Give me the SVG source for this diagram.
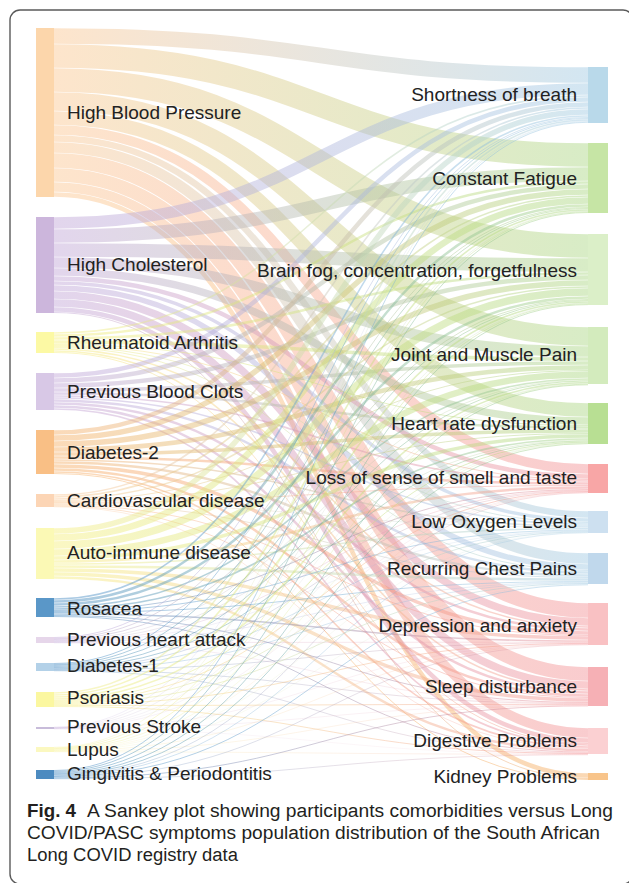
<svg xmlns="http://www.w3.org/2000/svg" width="629" height="883" viewBox="0 0 629 883">
<style>
.lk{fill:none;stroke-opacity:.45}
.lbl{font-family:"Liberation Sans",Arial,sans-serif;font-size:19px;fill:#222}
.r{text-anchor:end}
.cap{font-family:"Liberation Sans",Arial,sans-serif;font-size:18px;fill:#231f20}
.Pb{stroke:url(#Pb)}.Pg{stroke:url(#Pg)}.Pp{stroke:url(#Pp)}.Po{stroke:url(#Po)}
.Lb{stroke:url(#Lb)}.Lg{stroke:url(#Lg)}.Lp{stroke:url(#Lp)}.Lo{stroke:url(#Lo)}
.Yb{stroke:url(#Yb)}.Yg{stroke:url(#Yg)}.Yp{stroke:url(#Yp)}
.Ob{stroke:url(#Ob)}.Og{stroke:url(#Og)}.Op{stroke:url(#Op)}.Oo{stroke:url(#Oo)}
.Bb{stroke:url(#Bb)}.Bg{stroke:url(#Bg)}.Bp{stroke:url(#Bp)}
</style>
<defs>
<linearGradient id="Pb" gradientUnits="userSpaceOnUse" x1="54" y1="0" x2="588" y2="0"><stop offset="0" stop-color="#fbc58e"/><stop offset="1" stop-color="#9ec8e2"/></linearGradient>
<linearGradient id="Pg" gradientUnits="userSpaceOnUse" x1="54" y1="0" x2="588" y2="0"><stop offset="0" stop-color="#fbc58e"/><stop offset="1" stop-color="#a8d580"/></linearGradient>
<linearGradient id="Pp" gradientUnits="userSpaceOnUse" x1="54" y1="0" x2="588" y2="0"><stop offset="0" stop-color="#fbc58e"/><stop offset="1" stop-color="#f28e93"/></linearGradient>
<linearGradient id="Po" gradientUnits="userSpaceOnUse" x1="54" y1="0" x2="588" y2="0"><stop offset="0" stop-color="#fbc58e"/><stop offset="1" stop-color="#f4a95a"/></linearGradient>
<linearGradient id="Lb" gradientUnits="userSpaceOnUse" x1="54" y1="0" x2="588" y2="0"><stop offset="0" stop-color="#bfa3d6"/><stop offset="1" stop-color="#9ec8e2"/></linearGradient>
<linearGradient id="Lg" gradientUnits="userSpaceOnUse" x1="54" y1="0" x2="588" y2="0"><stop offset="0" stop-color="#bfa3d6"/><stop offset="1" stop-color="#a8d580"/></linearGradient>
<linearGradient id="Lp" gradientUnits="userSpaceOnUse" x1="54" y1="0" x2="588" y2="0"><stop offset="0" stop-color="#bfa3d6"/><stop offset="1" stop-color="#f28e93"/></linearGradient>
<linearGradient id="Lo" gradientUnits="userSpaceOnUse" x1="54" y1="0" x2="588" y2="0"><stop offset="0" stop-color="#bfa3d6"/><stop offset="1" stop-color="#f4a95a"/></linearGradient>
<linearGradient id="Yb" gradientUnits="userSpaceOnUse" x1="54" y1="0" x2="588" y2="0"><stop offset="0" stop-color="#f5ee7a"/><stop offset="1" stop-color="#9ec8e2"/></linearGradient>
<linearGradient id="Yg" gradientUnits="userSpaceOnUse" x1="54" y1="0" x2="588" y2="0"><stop offset="0" stop-color="#f5ee7a"/><stop offset="1" stop-color="#a8d580"/></linearGradient>
<linearGradient id="Yp" gradientUnits="userSpaceOnUse" x1="54" y1="0" x2="588" y2="0"><stop offset="0" stop-color="#f5ee7a"/><stop offset="1" stop-color="#f28e93"/></linearGradient>
<linearGradient id="Ob" gradientUnits="userSpaceOnUse" x1="54" y1="0" x2="588" y2="0"><stop offset="0" stop-color="#f6ad62"/><stop offset="1" stop-color="#9ec8e2"/></linearGradient>
<linearGradient id="Og" gradientUnits="userSpaceOnUse" x1="54" y1="0" x2="588" y2="0"><stop offset="0" stop-color="#f6ad62"/><stop offset="1" stop-color="#a8d580"/></linearGradient>
<linearGradient id="Op" gradientUnits="userSpaceOnUse" x1="54" y1="0" x2="588" y2="0"><stop offset="0" stop-color="#f6ad62"/><stop offset="1" stop-color="#f28e93"/></linearGradient>
<linearGradient id="Oo" gradientUnits="userSpaceOnUse" x1="54" y1="0" x2="588" y2="0"><stop offset="0" stop-color="#f6ad62"/><stop offset="1" stop-color="#f4a95a"/></linearGradient>
<linearGradient id="Bb" gradientUnits="userSpaceOnUse" x1="54" y1="0" x2="588" y2="0"><stop offset="0" stop-color="#3f86c0"/><stop offset="1" stop-color="#9ec8e2"/></linearGradient>
<linearGradient id="Bg" gradientUnits="userSpaceOnUse" x1="54" y1="0" x2="588" y2="0"><stop offset="0" stop-color="#3f86c0"/><stop offset="1" stop-color="#a8d580"/></linearGradient>
<linearGradient id="Bp" gradientUnits="userSpaceOnUse" x1="54" y1="0" x2="588" y2="0"><stop offset="0" stop-color="#3f86c0"/><stop offset="1" stop-color="#f28e93"/></linearGradient>
</defs>
<rect width="629" height="883" fill="#fff"/>
<rect id="frame" x="10" y="10" width="623" height="874" rx="10" fill="none" stroke="#5a5a5a" stroke-width="1.4"/>
<g id="connectors">
<path class="lk Pb" stroke-width="15.5" d="M54 36C321 36 321 75 588 75"/>
<path class="lk Pg" stroke-width="23.5" d="M54 56C321 56 321 155 588 155"/>
<path class="lk Pg" stroke-width="23.5" d="M54 80C321 80 321 246 588 246"/>
<path class="lk Pg" stroke-width="18.5" d="M54 101.5C321 101.5 321 336.5 588 336.5"/>
<path class="lk Pg" stroke-width="13.5" d="M54 118C321 118 321 410 588 410"/>
<path class="lk Pp" stroke-width="9.5" d="M54 130C321 130 321 469 588 469"/>
<path class="lk Pb" stroke-width="6.5" d="M54 138.5C321 138.5 321 514.5 588 514.5"/>
<path class="lk Pb" stroke-width="10.5" d="M54 147.5C321 147.5 321 558.5 588 558.5"/>
<path class="lk Pp" stroke-width="14.5" d="M54 160.5C321 160.5 321 610.5 588 610.5"/>
<path class="lk Pp" stroke-width="13.5" d="M54 175C321 175 321 674 588 674"/>
<path class="lk Pp" stroke-width="9.5" d="M54 187C321 187 321 733 588 733"/>
<path class="lk Po" stroke-width="4.5" d="M54 194.5C321 194.5 321 775.5 588 775.5"/>

<path class="lk Lb" stroke-width="11.5" d="M54 223C321 223 321 89 588 89"/>
<path class="lk Lg" stroke-width="13.5" d="M54 236C321 236 321 174 588 174"/>
<path class="lk Lg" stroke-width="13.5" d="M54 250C321 250 321 265 588 265"/>
<path class="lk Lg" stroke-width="10.5" d="M54 262.5C321 262.5 321 351.5 588 351.5"/>
<path class="lk Lg" stroke-width="7.5" d="M54 272C321 272 321 421 588 421"/>
<path class="lk Lp" stroke-width="4.5" d="M54 278.5C321 278.5 321 476.5 588 476.5"/>
<path class="lk Lb" stroke-width="3.5" d="M54 283C321 283 321 520 588 520"/>
<path class="lk Lb" stroke-width="5.5" d="M54 288C321 288 321 567 588 567"/>
<path class="lk Lp" stroke-width="7.5" d="M54 295C321 295 321 622 588 622"/>
<path class="lk Lp" stroke-width="7.5" d="M54 303C321 303 321 685 588 685"/>
<path class="lk Lp" stroke-width="4.5" d="M54 309.5C321 309.5 321 740.5 588 740.5"/>
<path class="lk Lo" stroke-width="1" d="M54 312.5C321 312.5 321 778.5 588 778.5"/>

<path class="lk Yb" stroke-width="1.6" d="M54 333C321 333 321 96 588 96"/>
<path class="lk Yg" stroke-width="2.5" d="M54 335.5C321 335.5 321 182.5 588 182.5"/>
<path class="lk Yg" stroke-width="2.5" d="M54 338.5C321 338.5 321 273.5 588 273.5"/>
<path class="lk Yg" stroke-width="3.5" d="M54 342C321 342 321 359 588 359"/>
<path class="lk Yg" stroke-width="1" d="M54 344.5C321 344.5 321 425.5 588 425.5"/>
<path class="lk Yp" stroke-width="1" d="M54 345.5C321 345.5 321 479.5 588 479.5"/>
<path class="lk Yb" stroke-width="1" d="M54 346.5C321 346.5 321 522.5 588 522.5"/>
<path class="lk Yb" stroke-width="1" d="M54 347.5C321 347.5 321 570.5 588 570.5"/>
<path class="lk Yp" stroke-width="1.6" d="M54 349C321 349 321 627 588 627"/>
<path class="lk Yp" stroke-width="1.6" d="M54 351C321 351 321 690 588 690"/>
<path class="lk Yp" stroke-width="1" d="M54 352.5C321 352.5 321 743.5 588 743.5"/>

<path class="lk Lb" stroke-width="4.5" d="M54 375.5C321 375.5 321 99.5 588 99.5"/>
<path class="lk Lg" stroke-width="4.5" d="M54 380.5C321 380.5 321 186.5 588 186.5"/>
<path class="lk Lg" stroke-width="4.5" d="M54 385.5C321 385.5 321 277.5 588 277.5"/>
<path class="lk Lg" stroke-width="3.5" d="M54 390C321 390 321 363 588 363"/>
<path class="lk Lg" stroke-width="2.5" d="M54 393.5C321 393.5 321 427.5 588 427.5"/>
<path class="lk Lp" stroke-width="1.6" d="M54 396C321 396 321 481 588 481"/>
<path class="lk Lb" stroke-width="1.6" d="M54 398C321 398 321 524 588 524"/>
<path class="lk Lb" stroke-width="2.5" d="M54 400.5C321 400.5 321 572.5 588 572.5"/>
<path class="lk Lp" stroke-width="2.5" d="M54 403.5C321 403.5 321 629.5 588 629.5"/>
<path class="lk Lp" stroke-width="2.5" d="M54 406.5C321 406.5 321 692.5 588 692.5"/>
<path class="lk Lp" stroke-width="1.6" d="M54 409C321 409 321 745 588 745"/>

<path class="lk Ob" stroke-width="4.5" d="M54 432.5C321 432.5 321 104.5 588 104.5"/>
<path class="lk Og" stroke-width="5.5" d="M54 438C321 438 321 192 588 192"/>
<path class="lk Og" stroke-width="5.5" d="M54 444C321 444 321 283 588 283"/>
<path class="lk Og" stroke-width="4.5" d="M54 449.5C321 449.5 321 367.5 588 367.5"/>
<path class="lk Og" stroke-width="3.5" d="M54 454C321 454 321 431 588 431"/>
<path class="lk Op" stroke-width="2.5" d="M54 457.5C321 457.5 321 483.5 588 483.5"/>
<path class="lk Ob" stroke-width="1.6" d="M54 460C321 460 321 526 588 526"/>
<path class="lk Ob" stroke-width="2.5" d="M54 462.5C321 462.5 321 575.5 588 575.5"/>
<path class="lk Op" stroke-width="3.5" d="M54 466C321 466 321 633 588 633"/>
<path class="lk Op" stroke-width="2.5" d="M54 469.5C321 469.5 321 695.5 588 695.5"/>
<path class="lk Op" stroke-width="1.6" d="M54 472C321 472 321 747 588 747"/>
<path class="lk Oo" stroke-width="1" d="M54 473.5C321 473.5 321 779.5 588 779.5"/>

<path class="lk Pb" stroke-width="1.6" d="M54 495C321 495 321 108 588 108"/>
<path class="lk Pg" stroke-width="1.6" d="M54 497C321 497 321 196 588 196"/>
<path class="lk Pg" stroke-width="1.6" d="M54 499C321 499 321 287 588 287"/>
<path class="lk Pg" stroke-width="1" d="M54 500.5C321 500.5 321 370.5 588 370.5"/>
<path class="lk Pg" stroke-width="1" d="M54 501.5C321 501.5 321 433.5 588 433.5"/>
<path class="lk Pp" stroke-width="1" d="M54 502.5C321 502.5 321 485.5 588 485.5"/>
<path class="lk Pb" stroke-width="0.6" d="M54 503.25C321 503.25 321 527.25 588 527.25"/>
<path class="lk Pb" stroke-width="1" d="M54 504C321 504 321 577.5 588 577.5"/>
<path class="lk Pp" stroke-width="1" d="M54 505C321 505 321 635.5 588 635.5"/>
<path class="lk Pp" stroke-width="1" d="M54 506C321 506 321 697.5 588 697.5"/>
<path class="lk Pp" stroke-width="0.6" d="M54 506.75C321 506.75 321 748.25 588 748.25"/>

<path class="lk Yb" stroke-width="5.5" d="M54 531C321 531 321 112 588 112"/>
<path class="lk Yg" stroke-width="6.5" d="M54 537.5C321 537.5 321 200.5 588 200.5"/>
<path class="lk Yg" stroke-width="7.5" d="M54 545C321 545 321 292 588 292"/>
<path class="lk Yg" stroke-width="6.5" d="M54 552.5C321 552.5 321 374.5 588 374.5"/>
<path class="lk Yg" stroke-width="3.5" d="M54 558C321 558 321 436 588 436"/>
<path class="lk Yp" stroke-width="2.5" d="M54 561.5C321 561.5 321 487.5 588 487.5"/>
<path class="lk Yb" stroke-width="1.6" d="M54 564C321 564 321 528.5 588 528.5"/>
<path class="lk Yb" stroke-width="2.5" d="M54 566.5C321 566.5 321 579.5 588 579.5"/>
<path class="lk Yp" stroke-width="3.5" d="M54 570C321 570 321 638 588 638"/>
<path class="lk Yp" stroke-width="3.5" d="M54 574C321 574 321 700 588 700"/>
<path class="lk Yp" stroke-width="2.5" d="M54 577.5C321 577.5 321 750 588 750"/>

<path class="lk Bb" stroke-width="1.6" d="M54 599C321 599 321 116 588 116"/>
<path class="lk Bg" stroke-width="2.5" d="M54 601.5C321 601.5 321 205.5 588 205.5"/>
<path class="lk Bg" stroke-width="2.5" d="M54 604.5C321 604.5 321 297.5 588 297.5"/>
<path class="lk Bg" stroke-width="1.6" d="M54 607C321 607 321 379 588 379"/>
<path class="lk Bg" stroke-width="1.6" d="M54 609C321 609 321 439 588 439"/>
<path class="lk Bp" stroke-width="1" d="M54 610.5C321 610.5 321 489.5 588 489.5"/>
<path class="lk Bb" stroke-width="1" d="M54 611.5C321 611.5 321 530 588 530"/>
<path class="lk Bb" stroke-width="1" d="M54 612.5C321 612.5 321 581.5 588 581.5"/>
<path class="lk Bp" stroke-width="1.6" d="M54 614C321 614 321 641 588 641"/>
<path class="lk Bp" stroke-width="1" d="M54 615.5C321 615.5 321 702.5 588 702.5"/>
<path class="lk Bp" stroke-width="1" d="M54 616.5C321 616.5 321 752 588 752"/>

<path class="lk Lb" stroke-width="1" d="M54 637.5C321 637.5 321 117.5 588 117.5"/>
<path class="lk Lg" stroke-width="1" d="M54 638.5C321 638.5 321 207.5 588 207.5"/>
<path class="lk Lg" stroke-width="1" d="M54 639.5C321 639.5 321 299.5 588 299.5"/>
<path class="lk Lg" stroke-width="0.6" d="M54 640.25C321 640.25 321 380.25 588 380.25"/>
<path class="lk Lg" stroke-width="0.6" d="M54 640.75C321 640.75 321 440.25 588 440.25"/>
<path class="lk Lp" stroke-width="0.6" d="M54 641.25C321 641.25 321 490.25 588 490.25"/>
<path class="lk Lb" stroke-width="0.4" d="M54 641.65C321 641.65 321 530.65 588 530.65"/>
<path class="lk Lb" stroke-width="0.6" d="M54 642.05C321 642.05 321 582.25 588 582.25"/>
<path class="lk Lp" stroke-width="0.5" d="M54 642.5C321 642.5 321 642.2 588 642.2"/>
<path class="lk Lp" stroke-width="0.4" d="M54 642.85C321 642.85 321 703.15 588 703.15"/>

<path class="lk Bb" stroke-width="1" d="M54 663.5C321 663.5 321 118.5 588 118.5"/>
<path class="lk Bg" stroke-width="1" d="M54 664.5C321 664.5 321 208.5 588 208.5"/>
<path class="lk Bg" stroke-width="1" d="M54 665.5C321 665.5 321 300.5 588 300.5"/>
<path class="lk Bg" stroke-width="1" d="M54 666.5C321 666.5 321 381 588 381"/>
<path class="lk Bg" stroke-width="1" d="M54 667.5C321 667.5 321 441 588 441"/>
<path class="lk Bp" stroke-width="0.6" d="M54 668.25C321 668.25 321 490.75 588 490.75"/>
<path class="lk Bb" stroke-width="0.6" d="M54 668.75C321 668.75 321 531.05 588 531.05"/>
<path class="lk Bb" stroke-width="0.6" d="M54 669.25C321 669.25 321 582.75 588 582.75"/>
<path class="lk Bp" stroke-width="0.6" d="M54 669.75C321 669.75 321 642.65 588 642.65"/>
<path class="lk Bp" stroke-width="0.6" d="M54 670.25C321 670.25 321 703.55 588 703.55"/>
<path class="lk Bp" stroke-width="0.6" d="M54 670.75C321 670.75 321 752.75 588 752.75"/>

<path class="lk Yb" stroke-width="1.6" d="M54 693C321 693 321 120 588 120"/>
<path class="lk Yg" stroke-width="1.6" d="M54 695C321 695 321 210 588 210"/>
<path class="lk Yg" stroke-width="1.6" d="M54 697C321 697 321 302 588 302"/>
<path class="lk Yg" stroke-width="1.6" d="M54 699C321 699 321 382.5 588 382.5"/>
<path class="lk Yg" stroke-width="1" d="M54 700.5C321 700.5 321 442 588 442"/>
<path class="lk Yp" stroke-width="1" d="M54 701.5C321 701.5 321 491.5 588 491.5"/>
<path class="lk Yb" stroke-width="1" d="M54 702.5C321 702.5 321 531.8 588 531.8"/>
<path class="lk Yb" stroke-width="1" d="M54 703.5C321 703.5 321 583.5 588 583.5"/>
<path class="lk Yp" stroke-width="1" d="M54 704.5C321 704.5 321 643.4 588 643.4"/>
<path class="lk Yp" stroke-width="1" d="M54 705.5C321 705.5 321 704.3 588 704.3"/>
<path class="lk Yp" stroke-width="1" d="M54 706.5C321 706.5 321 753.5 588 753.5"/>

<path class="lk Lb" stroke-width="0.4" d="M54 727.15C321 727.15 321 121.15 588 121.15"/>
<path class="lk Lg" stroke-width="0.4" d="M54 727.45C321 727.45 321 211.15 588 211.15"/>
<path class="lk Lg" stroke-width="0.4" d="M54 727.75C321 727.75 321 303.15 588 303.15"/>
<path class="lk Lg" stroke-width="0.3" d="M54 728C321 728 321 383.6 588 383.6"/>
<path class="lk Lg" stroke-width="0.3" d="M54 728.2C321 728.2 321 442.6 588 442.6"/>
<path class="lk Lp" stroke-width="0.3" d="M54 728.4C321 728.4 321 492.1 588 492.1"/>
<path class="lk Lp" stroke-width="0.3" d="M54 728.6C321 728.6 321 644 588 644"/>
<path class="lk Lp" stroke-width="0.3" d="M54 728.8C321 728.8 321 704.9 588 704.9"/>
<path class="lk Lp" stroke-width="0.2" d="M54 728.95C321 728.95 321 754.05 588 754.05"/>

<path class="lk Yb" stroke-width="0.5" d="M54 747.25C321 747.25 321 121.55 588 121.55"/>
<path class="lk Yg" stroke-width="0.7" d="M54 747.85C321 747.85 321 211.65 588 211.65"/>
<path class="lk Yg" stroke-width="0.8" d="M54 748.6C321 748.6 321 303.7 588 303.7"/>
<path class="lk Yg" stroke-width="0.6" d="M54 749.3C321 749.3 321 384 588 384"/>
<path class="lk Yg" stroke-width="0.4" d="M54 749.8C321 749.8 321 442.9 588 442.9"/>
<path class="lk Yp" stroke-width="0.3" d="M54 750.15C321 750.15 321 492.35 588 492.35"/>
<path class="lk Yb" stroke-width="0.3" d="M54 750.4C321 750.4 321 532.4 588 532.4"/>
<path class="lk Yb" stroke-width="0.3" d="M54 750.65C321 750.65 321 584.15 588 584.15"/>
<path class="lk Yp" stroke-width="0.4" d="M54 751C321 751 321 644.3 588 644.3"/>
<path class="lk Yp" stroke-width="0.4" d="M54 751.4C321 751.4 321 705.2 588 705.2"/>
<path class="lk Yp" stroke-width="0.4" d="M54 751.8C321 751.8 321 754.3 588 754.3"/>

<path class="lk Bb" stroke-width="1" d="M54 770.5C321 770.5 321 122.3 588 122.3"/>
<path class="lk Bg" stroke-width="1" d="M54 771.5C321 771.5 321 212.5 588 212.5"/>
<path class="lk Bg" stroke-width="1" d="M54 772.5C321 772.5 321 304.6 588 304.6"/>
<path class="lk Bg" stroke-width="1" d="M54 773.5C321 773.5 321 384.8 588 384.8"/>
<path class="lk Bg" stroke-width="1" d="M54 774.5C321 774.5 321 443.6 588 443.6"/>
<path class="lk Bp" stroke-width="0.6" d="M54 775.25C321 775.25 321 492.75 588 492.75"/>
<path class="lk Bb" stroke-width="0.6" d="M54 775.75C321 775.75 321 532.75 588 532.75"/>
<path class="lk Bb" stroke-width="1" d="M54 776.5C321 776.5 321 584.8 588 584.8"/>
<path class="lk Bp" stroke-width="0.6" d="M54 777.25C321 777.25 321 644.75 588 644.75"/>
<path class="lk Bp" stroke-width="1" d="M54 778C321 778 321 705.9 588 705.9"/>
<path class="lk Bp" stroke-width="0.6" d="M54 778.75C321 778.75 321 754.75 588 754.75"/>
</g>
<g id="n-hbp"><rect x="36" y="28" width="18" height="169" fill="#fcd6ab"/><text class="lbl" x="67" y="119">High Blood Pressure</text></g>
<g id="n-hc"><rect x="36" y="217" width="18" height="96" fill="#ccb6dc"/><text class="lbl" x="67" y="271">High Cholesterol</text></g>
<g id="n-ra"><rect x="36" y="332" width="18" height="21" fill="#fcf9a4"/><text class="lbl" x="67" y="349">Rheumatoid Arthritis</text></g>
<g id="n-pbc"><rect x="36" y="373" width="18" height="37" fill="#d8c8e6"/><text class="lbl" x="67" y="398">Previous Blood Clots</text></g>
<g id="n-d2"><rect x="36" y="430" width="18" height="44" fill="#f9bf85"/><text class="lbl" x="67" y="459">Diabetes-2</text></g>
<g id="n-cvd"><rect x="36" y="494" width="18" height="13" fill="#fcd5b5"/><text class="lbl" x="67" y="507">Cardiovascular disease</text></g>
<g id="n-ai"><rect x="36" y="528" width="18" height="51" fill="#fbf9b5"/><text class="lbl" x="67" y="559">Auto-immune disease</text></g>
<g id="n-ros"><rect x="36" y="598" width="18" height="19" fill="#5a97c8"/><text class="lbl" x="67" y="615">Rosacea</text></g>
<g id="n-pha"><rect x="36" y="637" width="18" height="6" fill="#e6d6ea"/><text class="lbl" x="67" y="646">Previous heart attack</text></g>
<g id="n-d1"><rect x="36" y="663" width="18" height="8" fill="#b3d1e8"/><text class="lbl" x="67" y="672">Diabetes-1</text></g>
<g id="n-pso"><rect x="36" y="692" width="18" height="15" fill="#fbf7a0"/><text class="lbl" x="67" y="704">Psoriasis</text></g>
<g id="n-ps"><rect x="36" y="727" width="18" height="2" fill="#c8bcda"/><text class="lbl" x="67" y="733">Previous Stroke</text></g>
<g id="n-lupus"><rect x="36" y="747" width="18" height="5" fill="#fbf8c0"/><text class="lbl" x="67" y="756">Lupus</text></g>
<g id="n-ging"><rect x="36" y="770" width="18" height="9" fill="#4d8bc0"/><text class="lbl" x="67" y="780">Gingivitis &amp; Periodontitis</text></g>

<g id="n-sob"><rect x="588" y="67" width="20" height="56" fill="#b9d9ea"/><text class="lbl r" x="577" y="101">Shortness of breath</text></g>
<g id="n-cf"><rect x="588" y="143" width="20" height="70" fill="#c6e5a5"/><text class="lbl r" x="577" y="185">Constant Fatigue</text></g>
<g id="n-bf"><rect x="588" y="234" width="20" height="71" fill="#dbefc8"/><text class="lbl r" x="577" y="277">Brain fog, concentration, forgetfulness</text></g>
<g id="n-jmp"><rect x="588" y="327" width="20" height="57" fill="#d3ebbd"/><text class="lbl r" x="577" y="361">Joint and Muscle Pain</text></g>
<g id="n-hrd"><rect x="588" y="403" width="20" height="41" fill="#b8df93"/><text class="lbl r" x="577" y="430">Heart rate dysfunction</text></g>
<g id="n-loss"><rect x="588" y="464" width="20" height="29" fill="#f8a6a6"/><text class="lbl r" x="577" y="484">Loss of sense of smell and taste</text></g>
<g id="n-lo"><rect x="588" y="511" width="20" height="22" fill="#cde0f0"/><text class="lbl r" x="577" y="528">Low Oxygen Levels</text></g>
<g id="n-rcp"><rect x="588" y="553" width="20" height="31" fill="#c0d8ec"/><text class="lbl r" x="577" y="575">Recurring Chest Pains</text></g>
<g id="n-da"><rect x="588" y="603" width="20" height="42" fill="#f9c1c3"/><text class="lbl r" x="577" y="632">Depression and anxiety</text></g>
<g id="n-sd"><rect x="588" y="667" width="20" height="39" fill="#f6b0b5"/><text class="lbl r" x="577" y="693">Sleep disturbance</text></g>
<g id="n-dp"><rect x="588" y="728" width="20" height="26" fill="#fbd0d2"/><text class="lbl r" x="577" y="747">Digestive Problems</text></g>
<g id="n-kp"><rect x="588" y="773" width="20" height="7" fill="#f8c48a"/><text class="lbl r" x="577" y="783">Kidney Problems</text></g>

<g id="caption">
<text class="cap" x="27" y="817" font-weight="bold" textLength="49" lengthAdjust="spacingAndGlyphs">Fig. 4</text>
<text class="cap" x="87" y="817" textLength="526" lengthAdjust="spacingAndGlyphs">A Sankey plot showing participants comorbidities versus Long</text>
<text class="cap" x="27" y="839" textLength="573" lengthAdjust="spacingAndGlyphs">COVID/PASC symptoms population distribution of the South African</text>
<text class="cap" x="27" y="861" textLength="211" lengthAdjust="spacingAndGlyphs">Long COVID registry data</text>
</g>
</svg>
